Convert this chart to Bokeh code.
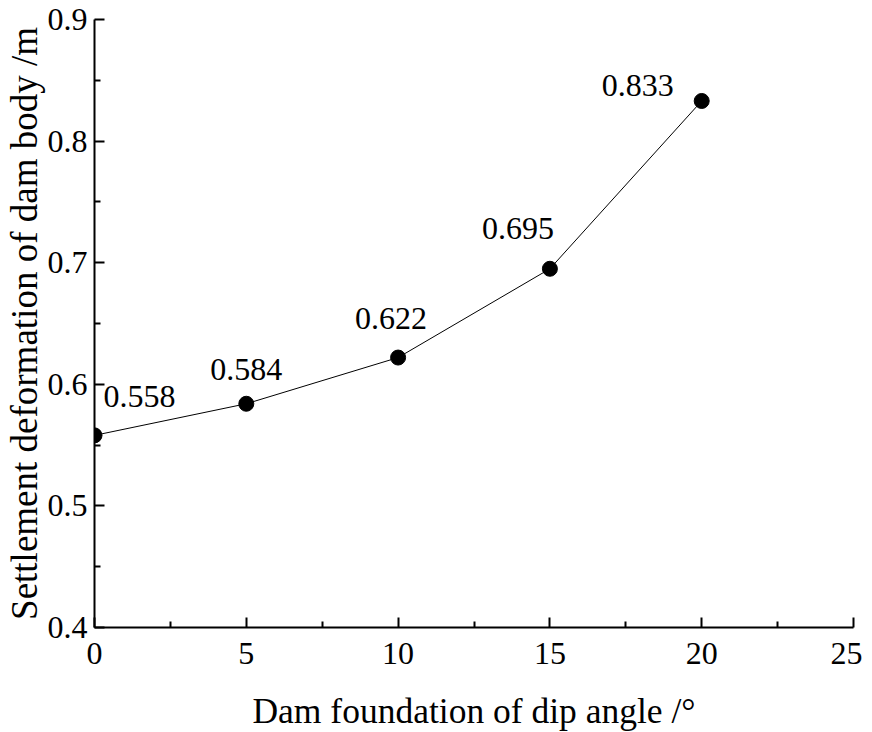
from bokeh.plotting import figure
from bokeh.models import ColumnDataSource, Range1d, FixedTicker
from bokeh.embed import file_html
from bokeh.resources import INLINE
from bokeh.core.properties import value

# data
angles = [0, 5, 10, 15, 20]
settlement = [0.558, 0.584, 0.622, 0.695, 0.833]
labels = ["0.558", "0.584", "0.622", "0.695", "0.833"]
x_ticks = [0, 5, 10, 15, 20, 25]
y_ticks = [0.4, 0.5, 0.6, 0.7, 0.8, 0.9]

# label placement (pixels)
label_dx = [45, 0, -7, -32, -64]
label_dy = [-39, -34, -39, -40, -15]

FONT = "Liberation Serif"

src = ColumnDataSource(dict(x=angles, y=settlement, t=labels, dx=label_dx, dy=label_dy))

p = figure(output_backend="svg", toolbar_location=None,
           frame_width=759, frame_height=608,
           min_border_left=88, min_border_right=9, min_border_top=19, min_border_bottom=89,
           x_range=Range1d(0, 25), y_range=Range1d(0.4, 0.9),
           background_fill_color="white", border_fill_color="white")
p.outline_line_color = None
p.grid.visible = False

p.line("x", "y", source=src, line_color="black", line_width=1)
p.scatter("x", "y", source=src, size=15, fill_color="black", line_color="black")
p.text("x", "y", text="t", source=src, x_offset="dx", y_offset="dy",
       text_align="center", text_baseline="middle",
       text_font=value(FONT), text_font_size="32px", text_color="black")

for ax in (p.xaxis[0], p.yaxis[0]):
    ax.axis_line_width = 2
    ax.axis_line_color = "black"
    ax.major_tick_in = 10
    ax.major_tick_out = 0
    ax.minor_tick_in = 6
    ax.minor_tick_out = 0
    ax.major_tick_line_width = 2
    ax.minor_tick_line_width = 2
    ax.major_tick_line_color = "black"
    ax.minor_tick_line_color = "black"
    ax.major_label_text_font = FONT
    ax.major_label_text_font_size = "32px"
    ax.major_label_text_color = "black"
    ax.axis_label_text_font = FONT
    ax.axis_label_text_font_style = "normal"
    ax.axis_label_text_color = "black"

p.xaxis.axis_label_text_font_size = "35.5px"
p.yaxis.axis_label_text_font_size = "37px"
p.xaxis.ticker = FixedTicker(ticks=x_ticks, minor_ticks=[2.5 + 5 * i for i in range(5)])
p.yaxis.ticker = FixedTicker(ticks=y_ticks, minor_ticks=[0.45, 0.55, 0.65, 0.75, 0.85])
p.yaxis.major_label_overrides = {v: str(v) for v in y_ticks}
p.xaxis.axis_label = "Dam foundation of dip angle /°"
p.yaxis.axis_label = "Settlement deformation of dam body /m"
p.xaxis.major_label_standoff = 15
p.yaxis.major_label_standoff = 7
p.xaxis.axis_label_standoff = 24
p.yaxis.axis_label_standoff = 0

open("out.html", "w").write(file_html(p, INLINE))
